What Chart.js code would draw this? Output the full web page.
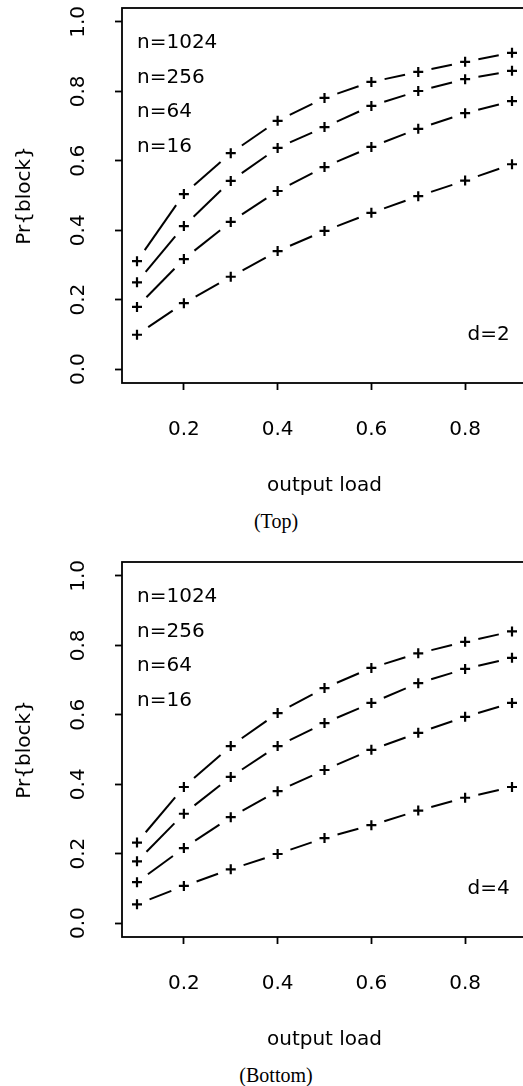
<!DOCTYPE html>
<html>
<head>
<meta charset="utf-8">
<script src="https://cdn.jsdelivr.net/npm/chart.js@4/dist/chart.umd.min.js"></script>
<style>
html, body { margin: 0; padding: 0; background: #fff; overflow: hidden; width: 523px; height: 1086px; }
.wrap { position: absolute; left: 0; width: 540px; height: 500px; }
.cap { position: absolute; font-family: "Liberation Serif", "DejaVu Serif", serif; font-size: 20px; color: #000;
       transform: translate(-50%, -50%); white-space: nowrap; }
</style>
</head>
<body>
<div class="wrap" style="top:0px"><canvas id="c1" width="540" height="500"></canvas></div>
<div class="cap" style="left:276px; top:521px">(Top)</div>
<div class="wrap" style="top:554px"><canvas id="c2" width="540" height="500"></canvas></div>
<div class="cap" style="left:276px; top:1075px">(Bottom)</div>
<script>
// ---- data ----
const loads = [0.1, 0.2, 0.3, 0.4, 0.5, 0.6, 0.7, 0.8, 0.9];
const xTicks = [0.2, 0.4, 0.6, 0.8];
const yTicks = [0.0, 0.2, 0.4, 0.6, 0.8, 1.0];
const seriesLabels = ['n=1024', 'n=256', 'n=64', 'n=16'];
const labelYs = [0.94, 0.84, 0.74, 0.64];

// d = 2 (top)
const d2_n1024 = [0.311, 0.504, 0.622, 0.715, 0.781, 0.827, 0.856, 0.885, 0.911];
const d2_n256  = [0.250, 0.412, 0.542, 0.637, 0.697, 0.758, 0.801, 0.835, 0.859];
const d2_n64   = [0.179, 0.317, 0.424, 0.513, 0.582, 0.640, 0.692, 0.737, 0.772];
const d2_n16   = [0.099, 0.190, 0.266, 0.340, 0.398, 0.450, 0.498, 0.543, 0.590];

// d = 4 (bottom)
const d4_n1024 = [0.232, 0.392, 0.510, 0.605, 0.677, 0.735, 0.777, 0.810, 0.840];
const d4_n256  = [0.178, 0.315, 0.421, 0.510, 0.576, 0.634, 0.691, 0.732, 0.764];
const d4_n64   = [0.118, 0.216, 0.305, 0.380, 0.441, 0.499, 0.548, 0.594, 0.634];
const d4_n16   = [0.054, 0.107, 0.155, 0.199, 0.245, 0.282, 0.324, 0.361, 0.392];

const xTitle = 'output load';
const yTitle = 'Pr{block}';

// ---- style ----
const FONT = '"DejaVu Sans", "Liberation Sans", sans-serif';
const GAP = 13.5;
const AREA_RIGHT = 527;   // plot box right edge (cropped by the window, as in the scan)
Chart.defaults.font.family = FONT;
Chart.defaults.color = '#000';

const boxPlugin = {
  id: 'box',
  afterDatasetsDraw(chart) {
    const a = chart.chartArea, c = chart.ctx;
    c.save();
    c.strokeStyle = '#000';
    c.lineWidth = 1.8;
    c.strokeRect(a.left, a.top, a.right - a.left, a.bottom - a.top);
    c.restore();
  }
};

const notePlugin = {
  id: 'notes',
  afterDraw(chart, args, opts) {
    const c = chart.ctx, xs = chart.scales.x, ys = chart.scales.y;
    c.save();
    c.fillStyle = '#000';
    c.font = '20px ' + FONT;
    c.textBaseline = 'middle';
    (opts.items || []).forEach(it => {
      c.textAlign = it.align;
      c.fillText(it.text, xs.getPixelForValue(it.x), ys.getPixelForValue(it.y));
    });
    c.restore();
  }
};

function zeroPad(s) { s.paddingTop = 0; s.paddingBottom = 0; s.paddingLeft = 0; s.paddingRight = 0; }

function makeChart(id, series, dLabel) {
  const datasets = series.map((arr, i) => ({
    label: seriesLabels[i],
    data: loads.map((x, j) => ({ x: x, y: arr[j] })),
    borderColor: '#000',
    borderWidth: 2,
    pointStyle: 'cross',
    pointRadius: 5,
    pointBorderWidth: 2.2,
    pointBorderColor: '#000',
    pointBackgroundColor: '#000',
    fill: false,
    tension: 0,
    segment: {
      borderDash: ctx => {
        const L = Math.hypot(ctx.p1.x - ctx.p0.x, ctx.p1.y - ctx.p0.y);
        return [0, GAP, Math.max(0, L - 2 * GAP), 10000 + ctx.p0DataIndex];
      }
    }
  }));
  const items = seriesLabels.map((t, i) => ({ text: t, x: 0.1, y: labelYs[i], align: 'left' }));
  items.push({ text: dLabel, x: 0.85, y: 0.1, align: 'center' });

  const ch = new Chart(document.getElementById(id), {
    type: 'line',
    data: { datasets },
    options: {
      responsive: false,
      devicePixelRatio: 1,
      animation: false,
      layout: { padding: { top: 8, right: 13, left: 0, bottom: 0 } },
      plugins: { legend: { display: false }, tooltip: { enabled: false }, notes: { items } },
      scales: {
        x: {
          type: 'linear',
          min: 0.068, max: 0.932,
          afterBuildTicks: s => { s.ticks = xTicks.map(v => ({ value: v })); },
          afterFit: s => { s.height = 117; zeroPad(s); },
          ticks: { autoSkip: false, maxRotation: 0, padding: 28, font: { size: 20 }, color: '#000',
                   callback: v => Number(v).toFixed(1) },
          grid: { display: true, drawOnChartArea: false, drawTicks: true, tickLength: 7,
                  tickWidth: 1.8, tickColor: '#000', color: '#000' },
          border: { display: false },
          title: { display: true, text: xTitle, color: '#000', font: { size: 20 }, padding: { top: 0, bottom: 2 } }
        },
        y: {
          type: 'linear',
          min: -0.04, max: 1.04,
          afterBuildTicks: s => { s.ticks = yTicks.map(v => ({ value: v })); },
          afterFit: s => { s.width = 122; zeroPad(s); },
          ticks: { autoSkip: false, minRotation: 90, maxRotation: 90, crossAlign: 'center', padding: 20,
                   font: { size: 20 }, color: '#000', callback: v => Number(v).toFixed(1) },
          grid: { display: true, drawOnChartArea: false, drawTicks: true, tickLength: 7,
                  tickWidth: 1.8, tickColor: '#000', color: '#000' },
          border: { display: false },
          title: { display: true, text: yTitle, color: '#000', font: { size: 20 }, padding: { top: 13, bottom: 0 } }
        }
      }
    },
    plugins: [boxPlugin, notePlugin]
  });
  // adjust the right padding so the plot box ends where the scan's box does
  const diff = ch.chartArea.right - AREA_RIGHT;
  if (Math.abs(diff) > 0.25) {
    ch.options.layout.padding.right += diff;
    ch.update();
  }
  return ch;
}

makeChart('c1', [d2_n1024, d2_n256, d2_n64, d2_n16], 'd=2');
makeChart('c2', [d4_n1024, d4_n256, d4_n64, d4_n16], 'd=4');
</script>
</body>
</html>
